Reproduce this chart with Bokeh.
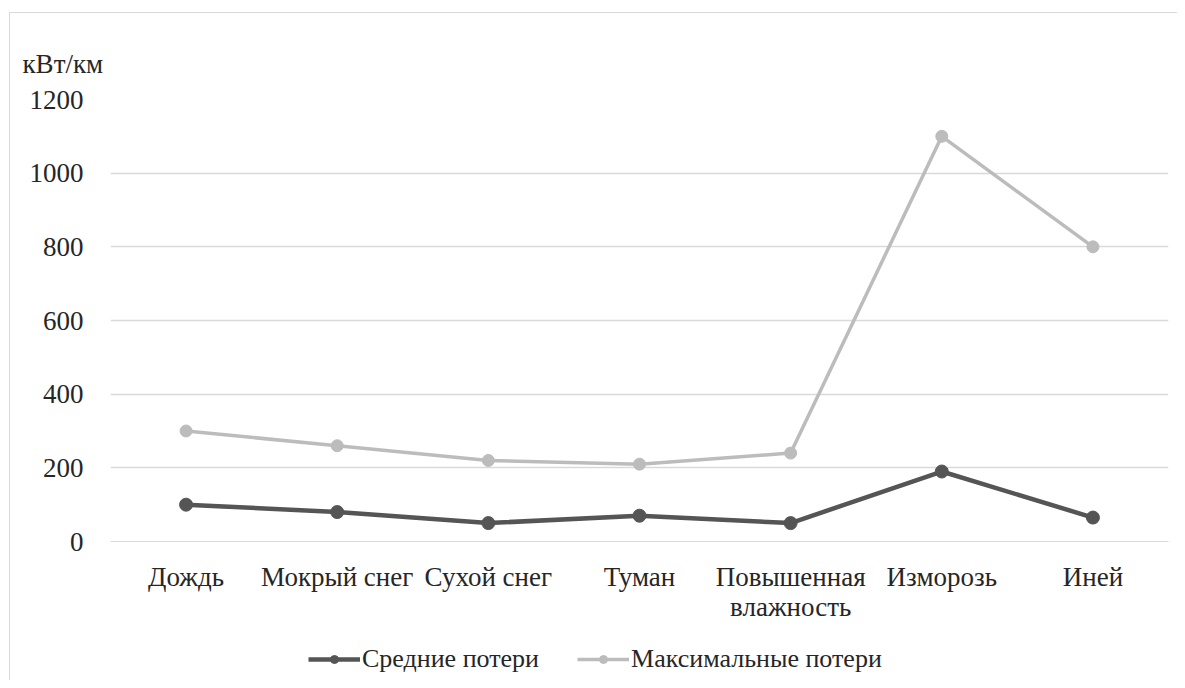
from bokeh.plotting import figure
from bokeh.models import Legend, LegendItem, FixedTicker, Range1d
from bokeh.layouts import column
from bokeh.embed import file_html
from bokeh.resources import INLINE

categories = ["Дождь", "Мокрый снег", "Сухой снег", "Туман",
              "Повышенная\nвлажность", "Изморозь", "Иней"]
avg_losses = [100, 80, 50, 70, 50, 190, 65]
max_losses = [300, 260, 220, 210, 240, 1100, 800]
y_ticks = [0, 200, 400, 600, 800, 1000, 1200]
unit_label = "кВт/км"
series_names = ["Средние потери", "Максимальные потери"]

FONT = "Liberation Serif"
FS = "27px"
LFS = "26px"
TEXT = "#262626"
DARK = "#555555"
LIGHT = "#bcbcbc"
W = 1167

p = figure(x_range=categories, y_range=Range1d(0, 1200),
           width=W, height=611, output_backend="svg",
           toolbar_location=None,
           min_border_left=100, min_border_right=9,
           min_border_top=86, min_border_bottom=80)

p.outline_line_color = None
p.background_fill_color = "white"
p.border_fill_color = "white"

p.title.text = unit_label
p.title.align = "left"
p.title.vertical_align = "top"
p.title.offset = -88
p.title.standoff = 38
p.title.text_font = FONT
p.title.text_font_size = FS
p.title.text_font_style = "normal"
p.title.text_color = TEXT

p.xgrid.grid_line_color = None
p.ygrid.grid_line_color = "#d9d9d9"
p.ygrid.grid_line_width = 1.5

p.yaxis.ticker = FixedTicker(ticks=y_ticks)
p.yaxis.axis_line_color = None
p.yaxis.major_tick_line_color = None
p.yaxis.minor_tick_line_color = None
p.yaxis.major_label_standoff = 21
p.yaxis.major_label_text_font = FONT
p.yaxis.major_label_text_font_size = FS
p.yaxis.major_label_text_color = TEXT

p.xaxis.axis_line_color = "#d9d9d9"
p.xaxis.major_tick_line_color = None
p.xaxis.minor_tick_line_color = None
p.xaxis.major_label_standoff = 14
p.xaxis.major_label_text_font = FONT
p.xaxis.major_label_text_font_size = FS
p.xaxis.major_label_text_color = TEXT
p.xaxis.major_label_text_line_height = 1.0

r1l = p.line(categories, avg_losses, line_color=DARK, line_width=4.5)
r1m = p.scatter(categories, avg_losses, size=13, fill_color=DARK, line_color=DARK)
r2l = p.line(categories, max_losses, line_color=LIGHT, line_width=3.5)
r2m = p.scatter(categories, max_losses, size=12, fill_color=LIGHT, line_color=LIGHT)
p.renderers = [r2l, r2m, r1l, r1m]

# legend strip below the chart (series drawn outside its visible range,
# only their legend swatches show)
lg = figure(width=W, height=56, output_backend="svg", toolbar_location=None,
            x_range=categories, y_range=Range1d(-2, -1),
            min_border=0, x_axis_type=None, y_axis_type=None)
lg.outline_line_color = None
lg.grid.visible = False
lg.background_fill_color = "white"
l1 = lg.line(categories, avg_losses, line_color=DARK, line_width=4.5)
m1 = lg.scatter(categories, avg_losses, size=13, fill_color=DARK, line_color=DARK)
l2 = lg.line(categories, max_losses, line_color=LIGHT, line_width=3.5)
m2 = lg.scatter(categories, max_losses, size=12, fill_color=LIGHT, line_color=LIGHT)

legend = Legend(items=[LegendItem(label=series_names[0], renderers=[l1, m1]),
                       LegendItem(label=series_names[1], renderers=[l2, m2])],
                orientation="horizontal", location=(198, 6),
                label_text_font=FONT, label_text_font_size=LFS,
                label_text_color=TEXT, glyph_width=52, glyph_height=20,
                label_standoff=2, spacing=38, border_line_color=None,
                background_fill_alpha=0, padding=2, margin=0)
lg.add_layout(legend, "center")

layout = column(p, lg, spacing=0, margin=(12, 0, 0, 9),
                styles={"border-top": "1px solid #d9d9d9",
                        "border-left": "1px solid #d9d9d9"})

open("out.html", "w").write(file_html(layout, INLINE))
